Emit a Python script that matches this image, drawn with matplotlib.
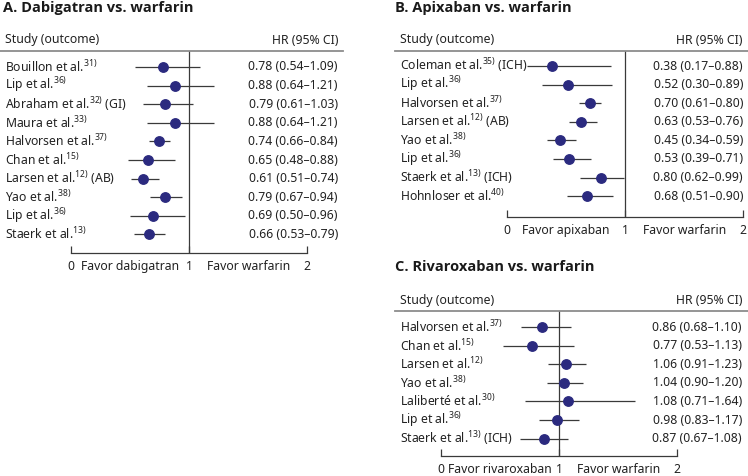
import matplotlib
matplotlib.use('Agg')
import matplotlib.pyplot as plt
import matplotlib.transforms as mtrans

plt.rcParams['font.family'] = ['Noto Sans', 'DejaVu Sans']
plt.rcParams['mathtext.fontset'] = 'custom'
plt.rcParams['mathtext.rm'] = 'Noto Sans'
plt.rcParams['mathtext.default'] = 'regular'

# data
dabi_labels = ['Bouillon et al.$^{31)}$', 'Lip et al.$^{36)}$', 'Abraham et al.$^{32)}$ (GI)',
               'Maura et al.$^{33)}$', 'Halvorsen et al.$^{37)}$', 'Chan et al.$^{15)}$',
               'Larsen et al.$^{12)}$ (AB)', 'Yao et al.$^{38)}$', 'Lip et al.$^{36)}$',
               'Staerk et al.$^{13)}$']
dabi_hr = [0.78, 0.88, 0.79, 0.88, 0.74, 0.65, 0.61, 0.79, 0.69, 0.66]
dabi_lo = [0.54, 0.64, 0.61, 0.64, 0.66, 0.48, 0.51, 0.67, 0.50, 0.53]
dabi_hi = [1.09, 1.21, 1.03, 1.21, 0.84, 0.88, 0.74, 0.94, 0.96, 0.79]

apix_labels = ['Coleman et al.$^{35)}$ (ICH)', 'Lip et al.$^{36)}$', 'Halvorsen et al.$^{37)}$',
               'Larsen et al.$^{12)}$ (AB)', 'Yao et al.$^{38)}$', 'Lip et al.$^{36)}$',
               'Staerk et al.$^{13)}$ (ICH)', 'Hohnloser et al.$^{40)}$']
apix_hr = [0.38, 0.52, 0.70, 0.63, 0.45, 0.53, 0.80, 0.68]
apix_lo = [0.17, 0.30, 0.61, 0.53, 0.34, 0.39, 0.62, 0.51]
apix_hi = [0.88, 0.89, 0.80, 0.76, 0.59, 0.71, 0.99, 0.90]

riva_labels = ['Halvorsen et al.$^{37)}$', 'Chan et al.$^{15)}$', 'Larsen et al.$^{12)}$',
               'Yao et al.$^{38)}$', 'Laliberté et al.$^{30)}$', 'Lip et al.$^{36)}$',
               'Staerk et al.$^{13)}$ (ICH)']
riva_hr = [0.86, 0.77, 1.06, 1.04, 1.08, 0.98, 0.87]
riva_lo = [0.68, 0.53, 0.91, 0.90, 0.71, 0.83, 0.67]
riva_hi = [1.10, 1.13, 1.23, 1.20, 1.64, 1.17, 1.08]

W, H = 748, 476
DOT = '#2b2a7f'
LINE = '#3a3a3a'
TXT = '#222222'
FS = 8.8
PAD = 5.0

fig = plt.figure(figsize=(W / 100, H / 100), dpi=100)
fig.patch.set_facecolor('w')


def panel(title, title_xy, left, right, top, bottom, zero_px, unit_px,
          row0_px, row_step, lab_px, val_px, labels, hr, lo, hi, favor):
    ax = fig.add_axes([left / W, 1 - bottom / H, (right - left) / W, (bottom - top) / H])
    ax.set_xlim((left - zero_px) / unit_px, (right - zero_px) / unit_px)
    ax.set_ylim((bottom - row0_px) / row_step, (top - row0_px) / row_step)
    ax.patch.set_alpha(0)
    for s in ['left', 'right']:
        ax.spines[s].set_visible(False)
    ax.spines['top'].set_color('#8c8c8c')
    ax.spines['top'].set_linewidth(1.3)
    ax.spines['bottom'].set_bounds(0, 2)
    ax.spines['bottom'].set_color(LINE)
    ax.spines['bottom'].set_linewidth(0.9)
    ax.set_yticks([])
    ax.set_xticks([0, 1, 2])
    ax.set_xticklabels(['0', '1', '2'], fontsize=FS, color=TXT)
    ax.tick_params(axis='x', direction='in', length=5, width=0.9, color=LINE, pad=PAD)
    ax.axvline(1, color=LINE, lw=0.9)

    ys = list(range(len(labels)))
    for y, h, l, u in zip(ys, hr, lo, hi):
        ax.plot([l, u], [y, y], color=LINE, lw=0.9, solid_capstyle='butt')
    ax.plot(hr, ys, 'o', color=DOT, ms=6.8, mec=DOT, zorder=3)

    tr = mtrans.blended_transform_factory(ax.transAxes, ax.transData)
    fx_lab = (lab_px - left) / (right - left)
    fx_val = (val_px - left) / (right - left)
    for y, lab, h, l, u in zip(ys, labels, hr, lo, hi):
        ax.text(fx_lab, y, lab, transform=tr, ha='left', va='center', fontsize=FS, color=TXT)
        ax.text(fx_val, y, f'{h:.2f} ({l:.2f}\u2013{u:.2f})', transform=tr,
                ha='right', va='center', fontsize=FS, color=TXT)

    # header row
    hy = (top - 11 - row0_px) / row_step
    ax.text(fx_lab, hy, 'Study (outcome)', transform=tr, ha='left', va='center',
            fontsize=FS, color=TXT, clip_on=False)
    ax.text(fx_val, hy, 'HR (95% CI)', transform=tr, ha='right', va='center',
            fontsize=FS, color=TXT, clip_on=False)

    # favor labels on the tick label line
    trx = mtrans.blended_transform_factory(ax.transData, ax.transAxes)
    for x, t in zip([0.5, 1.5], favor):
        ax.annotate(t, xy=(x, 0), xycoords=trx, xytext=(0, -PAD), textcoords='offset points',
                    ha='center', va='top', fontsize=FS, color=TXT)

    fig.text(title_xy[0] / W, 1 - title_xy[1] / H, title, fontsize=10.5,
             family=['Open Sans', 'DejaVu Sans'], fontweight='bold',
             color='#1a1a1a', ha='left', va='center')
    return ax


panel('A. Dabigatran vs. warfarin', (3, 8), 0, 343, 51, 253, 71.3, 118.0,
      67, 18.6, 5, 338, dabi_labels, dabi_hr, dabi_lo, dabi_hi,
      ['Favor dabigatran', 'Favor warfarin'])
panel('B. Apixaban vs. warfarin', (395, 8), 395, 748, 51, 217, 506.7, 118.3,
      66, 18.6, 400, 743, apix_labels, apix_hr, apix_lo, apix_hi,
      ['Favor apixaban', 'Favor warfarin'])
panel('C. Rivaroxaban vs. warfarin', (395, 267), 395, 748, 311, 456, 440.7, 118.3,
      327, 18.6, 400, 742, riva_labels, riva_hr, riva_lo, riva_hi,
      ['Favor rivaroxaban', 'Favor warfarin'])

plt.savefig('out.png', dpi=100)
